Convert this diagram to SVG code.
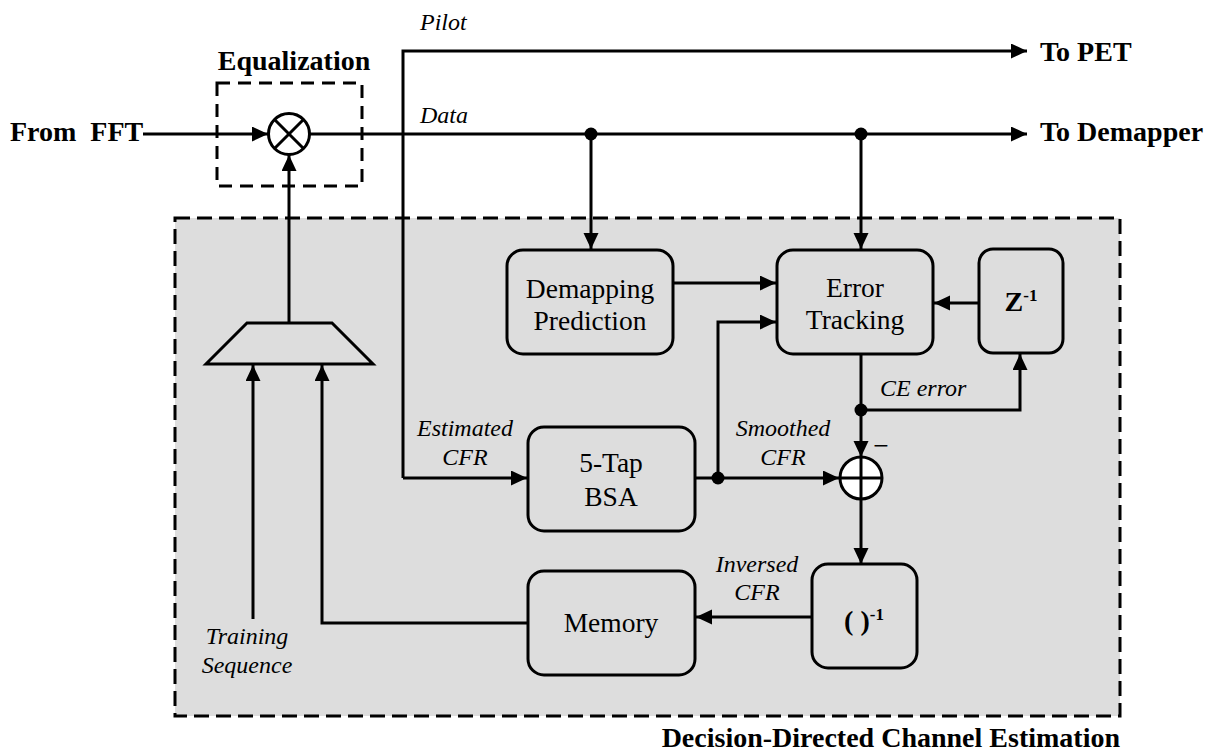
<svg xmlns="http://www.w3.org/2000/svg" width="1216" height="753" viewBox="0 0 1216 753">
<style>
.ln{fill:none;stroke:#000;stroke-width:3}
.box{fill:#dddddd;stroke:#000;stroke-width:3}
.b{font-family:'Liberation Serif','Times New Roman',Times,'DejaVu Serif',serif;font-weight:bold;font-size:28px;fill:#000}
.r{font-family:'Liberation Serif','Times New Roman',Times,'DejaVu Serif',serif;font-size:27.5px;fill:#000;text-anchor:middle}
.i{font-family:'Liberation Serif','Times New Roman',Times,'DejaVu Serif',serif;font-style:italic;font-size:24px;fill:#000}
.dot{fill:#000}
</style>
<defs>
<marker id="ah" markerUnits="userSpaceOnUse" markerWidth="17" markerHeight="16" refX="16" refY="7.5" orient="auto">
<path d="M0,0 L16,7.5 L0,15 z" fill="#000"/>
</marker>
</defs>
<rect width="1216" height="753" fill="#fff"/>

<g id="dd-ce-region">
<rect x="175" y="218" width="945" height="498" fill="#dddddd" stroke="#000" stroke-width="3" stroke-dasharray="15 7"/>
<text class="b" x="1120" y="747" text-anchor="end">Decision-Directed Channel Estimation</text>
</g>

<g id="equalization">
<rect x="217" y="83" width="145" height="103" fill="none" stroke="#000" stroke-width="3" stroke-dasharray="13 8"/>
<text class="b" x="294" y="70" text-anchor="middle">Equalization</text>
</g>

<g id="labels">
<text class="b" x="10" y="141" xml:space="preserve">From  FFT</text>
<text class="b" x="1040" y="61">To PET</text>
<text class="b" x="1040" y="141">To Demapper</text>
<text class="i" x="420" y="30">Pilot</text>
<text class="i" x="420" y="123">Data</text>
<text class="i" x="465" y="436" text-anchor="middle">Estimated</text>
<text class="i" x="465" y="465" text-anchor="middle">CFR</text>
<text class="i" x="783" y="436" text-anchor="middle">Smoothed</text>
<text class="i" x="783" y="465" text-anchor="middle">CFR</text>
<text class="i" x="880" y="396">CE error</text>
<text class="i" x="757" y="572" text-anchor="middle">Inversed</text>
<text class="i" x="757" y="600" text-anchor="middle">CFR</text>
<text class="i" x="247" y="644" text-anchor="middle">Training</text>
<text class="i" x="247" y="673" text-anchor="middle">Sequence</text>
<text class="r" x="881" y="455">−</text>
</g>

<g id="connectors">
<line class="ln" x1="143" y1="134" x2="268" y2="134" marker-end="url(#ah)"/>
<line class="ln" x1="310" y1="134" x2="1027" y2="134" marker-end="url(#ah)"/>
<polyline class="ln" points="403,478 403,51 1027,51" marker-end="url(#ah)"/>
<line class="ln" x1="403" y1="478" x2="527" y2="478" marker-end="url(#ah)"/>
<line class="ln" x1="289" y1="323" x2="289" y2="155" marker-end="url(#ah)"/>
<line class="ln" x1="591" y1="134" x2="591" y2="249" marker-end="url(#ah)"/>
<line class="ln" x1="861" y1="134" x2="861" y2="249" marker-end="url(#ah)"/>
<line class="ln" x1="673" y1="283" x2="776" y2="283" marker-end="url(#ah)"/>
<polyline class="ln" points="718,478 718,322 776,322" marker-end="url(#ah)"/>
<line class="ln" x1="979" y1="303" x2="934" y2="303" marker-end="url(#ah)"/>
<line class="ln" x1="861" y1="354" x2="861" y2="457" marker-end="url(#ah)"/>
<polyline class="ln" points="861,410 1020,410 1020,354" marker-end="url(#ah)"/>
<line class="ln" x1="695" y1="478" x2="839" y2="478" marker-end="url(#ah)"/>
<line class="ln" x1="861" y1="499" x2="861" y2="564" marker-end="url(#ah)"/>
<line class="ln" x1="812" y1="617" x2="696" y2="617" marker-end="url(#ah)"/>
<polyline class="ln" points="528,623 322,623 322,365" marker-end="url(#ah)"/>
<line class="ln" x1="253" y1="619" x2="253" y2="365" marker-end="url(#ah)"/>
<circle class="dot" cx="591" cy="134" r="6.5"/>
<circle class="dot" cx="861" cy="134" r="6.5"/>
<circle class="dot" cx="861" cy="410" r="6.5"/>
<circle class="dot" cx="718" cy="478" r="6.5"/>
</g>

<g id="multiplier">
<circle cx="289" cy="134" r="20.5" fill="#fff" stroke="#000" stroke-width="3"/>
<line class="ln" x1="274.5" y1="119.5" x2="303.5" y2="148.5"/>
<line class="ln" x1="303.5" y1="119.5" x2="274.5" y2="148.5"/>
</g>

<g id="mux">
<polygon class="box" points="247,323 332,323 373,364 206,364"/>
</g>

<g id="demapping-prediction">
<rect class="box" x="507" y="250" width="166" height="104" rx="16"/>
<text class="r" x="590" y="298">Demapping</text>
<text class="r" x="590" y="330">Prediction</text>
</g>

<g id="error-tracking">
<rect class="box" x="777" y="250" width="156" height="104" rx="16"/>
<text class="r" x="855" y="297">Error</text>
<text class="r" x="855" y="329">Tracking</text>
</g>

<g id="z-delay">
<rect class="box" x="979" y="249" width="84" height="104" rx="14"/>
<text class="b" x="1021" y="311" text-anchor="middle">Z<tspan font-size="17" dy="-10">-1</tspan></text>
</g>

<g id="sum">
<circle cx="861" cy="478" r="21" fill="#fff" stroke="#000" stroke-width="3"/>
<line class="ln" x1="840" y1="478" x2="882" y2="478"/>
<line class="ln" x1="861" y1="457" x2="861" y2="499"/>
</g>

<g id="bsa">
<rect class="box" x="528" y="427" width="167" height="104" rx="16"/>
<text class="r" x="611" y="472">5-Tap</text>
<text class="r" x="611" y="506">BSA</text>
</g>

<g id="inverse">
<rect class="box" x="812" y="564" width="105" height="104" rx="16"/>
<text class="b" x="864" y="630" text-anchor="middle" xml:space="preserve">( )<tspan font-size="17" dy="-10">-1</tspan></text>
</g>

<g id="memory">
<rect class="box" x="528" y="571" width="167" height="104" rx="16"/>
<text class="r" x="611" y="632">Memory</text>
</g>
</svg>
